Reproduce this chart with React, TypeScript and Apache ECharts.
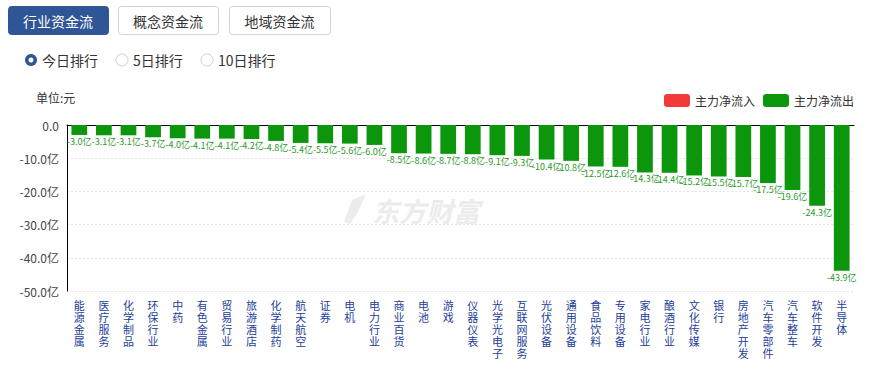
import React, { useEffect, useRef } from "react";
import * as echarts from "echarts";

const categories = [
  "能源金属", "医疗服务", "化学制品", "环保行业", "中药", "有色金属", "贸易行业", "旅游酒店",
  "化学制药", "航天航空", "证券", "电机", "电力行业", "商业百货", "电池", "游戏",
  "仪器仪表", "光学光电子", "互联网服务", "光伏设备", "通用设备", "食品饮料", "专用设备", "家电行业",
  "酿酒行业", "文化传媒", "银行", "房地产开发", "汽车零部件", "汽车整车", "软件开发", "半导体",
];
const outflow = [
  -3.0, -3.1, -3.1, -3.7, -4.0, -4.1, -4.1, -4.2,
  -4.8, -5.4, -5.5, -5.6, -6.0, -8.5, -8.6, -8.7,
  -8.8, -9.1, -9.3, -10.4, -10.8, -12.5, -12.6, -14.3,
  -14.4, -15.2, -15.5, -15.7, -17.5, -19.6, -24.3, -43.9,
];
const inflow: number[] = [];
const tabs = ["行业资金流", "概念资金流", "地域资金流"];
const radios = ["今日排行", "5日排行", "10日排行"];

const BLUE = "#2e5596";
const GREEN = "#0c960c";
const RED = "#f23a3a";

export default function App() {
  const ref = useRef<HTMLDivElement>(null);
  useEffect(() => {
    if (!ref.current) return;
    const chart = echarts.init(ref.current, null, { renderer: "svg" });
    const tabX = [8, 118, 229];
    const tabW = [100, 100, 101];
    const radioX = [31, 122, 207];
    const graphic: any[] = [];
    tabs.forEach((t, i) => {
      graphic.push({
        type: "rect",
        shape: { x: tabX[i] + 0.5, y: 6.5, width: tabW[i], height: 28, r: 3 },
        style: i === 0 ? { fill: BLUE, stroke: BLUE } : { fill: "#fff", stroke: "#cfd4dc", lineWidth: 1 },
      });
      graphic.push({
        type: "text",
        x: tabX[i] + tabW[i] / 2,
        y: 21,
        style: {
          text: t,
          fill: i === 0 ? "#fff" : "#333",
          font: "14px 'Microsoft YaHei', 'Noto Sans CJK SC', sans-serif",
          align: "center",
          verticalAlign: "middle",
        },
      });
    });
    radios.forEach((t, i) => {
      if (i === 0) {
        graphic.push({ type: "circle", shape: { cx: radioX[i], cy: 60, r: 6 }, style: { fill: BLUE } });
        graphic.push({ type: "circle", shape: { cx: radioX[i], cy: 60, r: 2.5 }, style: { fill: "#fff" } });
      } else {
        graphic.push({ type: "circle", shape: { cx: radioX[i], cy: 60, r: 6 }, style: { fill: "#fff", stroke: "#d0d0d0", lineWidth: 1 } });
      }
      graphic.push({
        type: "text",
        x: radioX[i] + 11,
        y: 60,
        style: {
          text: t,
          fill: "#333",
          font: "14px 'Microsoft YaHei', 'Noto Sans CJK SC', sans-serif",
          verticalAlign: "middle",
        },
      });
    });
    graphic.push({
      type: "text",
      x: 36,
      y: 97,
      style: { text: "单位:元", fill: "#333", font: "12px 'Noto Sans CJK SC', sans-serif", verticalAlign: "middle" },
    });
    graphic.push({
      type: "text",
      x: 372,
      y: 210,
      z: -10,
      style: {
        text: "东方财富",
        fill: "#ececec",
        font: "italic bold 27px 'Noto Sans CJK SC', sans-serif",
        verticalAlign: "middle",
      },
    });
    graphic.push({
      type: "polygon",
      z: -10,
      shape: { points: [[344, 222], [352, 200], [366, 194], [358, 212], [350, 224]] },
      style: { fill: "#ececec" },
    });

    chart.setOption({
      animation: false,
      graphic,
      legend: {
        right: 10,
        top: 89,
        itemWidth: 26,
        itemHeight: 13,
        itemGap: 8,
        textStyle: { color: "#333", fontSize: 12, fontFamily: "'Noto Sans CJK SC', sans-serif" },
        data: [
          { name: "主力净流入", itemStyle: { color: RED } },
          { name: "主力净流出", itemStyle: { color: GREEN } },
        ],
      },
      grid: { left: 67, right: 15, top: 125, bottom: 76, containLabel: false },
      xAxis: [
        {
          type: "category",
          data: categories,
          position: "bottom",
          axisLine: { show: false, onZero: false },
          axisTick: { show: false },
          axisLabel: {
            interval: 0,
            margin: 8,
            color: "#24409a",
            fontSize: 11,
            lineHeight: 12,
            fontFamily: "'Noto Sans CJK SC', sans-serif",
            formatter: (v: string) => v.split("").join("\n"),
          },
        },
        {
          type: "category",
          data: categories,
          position: "top",
          axisLine: { show: true, onZero: false, lineStyle: { color: "#000", width: 1 } },
          axisTick: { show: false },
          axisLabel: { show: false },
        },
      ],
      yAxis: {
        type: "value",
        min: -50,
        max: 0,
        interval: 10,
        axisLine: { show: true, lineStyle: { color: "#000" } },
        axisTick: { show: false },
        axisLabel: {
          color: "#444",
          fontSize: 12,
          margin: 8,
          fontFamily: "'Noto Sans CJK SC', sans-serif",
          formatter: (v: number) => (v === 0 ? "0.0" : v.toFixed(1) + "亿"),
        },
        splitLine: { lineStyle: { color: "#e3e3e3", type: [2, 2] } },
      },
      series: [
        {
          name: "主力净流入",
          type: "bar",
          stack: "flow",
          data: inflow,
          itemStyle: { color: RED },
        },
        {
          name: "主力净流出",
          type: "bar",
          stack: "flow",
          barWidth: "64%",
          data: outflow,
          itemStyle: { color: GREEN },
          label: {
            show: true,
            position: "bottom",
            distance: 2,
            color: "#2a9a2a",
            fontSize: 9,
            fontFamily: "'Noto Sans CJK SC', sans-serif",
            formatter: (p: any) => Number(p.value).toFixed(1) + "亿",
          },
        },
      ],
    });
    return () => chart.dispose();
  }, []);
  return (
    <div
      ref={ref}
      style={{ position: "absolute", left: 0, top: 0, width: 869, height: 367, background: "#fff" }}
    />
  );
}
